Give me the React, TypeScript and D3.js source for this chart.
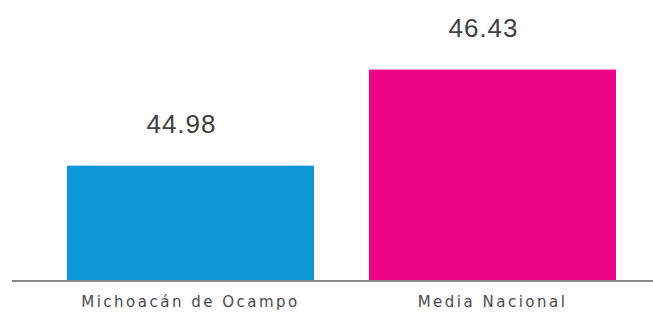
import React, { useRef, useEffect } from "react";
import * as d3 from "d3";

const categories = ["Michoacán de Ocampo", "Media Nacional"];
const values = [44.98, 46.43];
const colors = ["#0f96d6", "#ec0586"];

export default function App() {
  const svgRef = useRef<SVGSVGElement>(null);

  useEffect(() => {
    if (!svgRef.current) return;
    const svg = d3.select(svgRef.current);
    svg.selectAll("*").remove();

    const width = 653;
    const height = 312;
    const baseline = 281;

    const x = d3
      .scaleBand<string>()
      .domain(categories)
      .range([12, 671])
      .paddingInner(0.182)
      .paddingOuter(0.182);

    // truncated value axis, as in the original
    const y = d3.scaleLinear().domain([43.24, 47.48]).range([baseline, 0]);

    svg.attr("width", width).attr("height", height);

    svg
      .selectAll("rect.bar")
      .data(values)
      .enter()
      .append("rect")
      .attr("class", "bar")
      .attr("x", (d, i) => x(categories[i]) as number)
      .attr("y", (d) => y(d))
      .attr("width", x.bandwidth())
      .attr("height", (d) => baseline - y(d))
      .attr("fill", (d, i) => colors[i]);

    svg
      .append("line")
      .attr("x1", 12)
      .attr("x2", width)
      .attr("y1", baseline)
      .attr("y2", baseline)
      .attr("stroke", "#8a8a8a")
      .attr("stroke-width", 2);

    svg
      .selectAll("text.value")
      .data(values)
      .enter()
      .append("text")
      .attr("class", "value")
      .attr("x", (d, i) => (x(categories[i]) as number) + x.bandwidth() / 2 - 9)
      .attr("y", (d) => y(d) - 33)
      .attr("text-anchor", "middle")
      .attr("font-family", "Liberation Sans, Arial, sans-serif")
      .attr("font-size", 26)
      .attr("letter-spacing", 1)
      .attr("fill", "#404040")
      .text((d) => d.toFixed(2));

    svg
      .selectAll("text.cat")
      .data(categories)
      .enter()
      .append("text")
      .attr("class", "cat")
      .attr("x", (d) => (x(d) as number) + x.bandwidth() / 2)
      .attr("y", 307)
      .attr("text-anchor", "middle")
      .attr("font-family", "DejaVu Sans, sans-serif")
      .attr("font-size", 15)
      .attr("letter-spacing", 2.5)
      .attr("fill", "#4a4a4a")
      .text((d) => d);
  }, []);

  return (
    <div style={{ position: "absolute", left: 0, top: 0 }}>
      <svg ref={svgRef} style={{ display: "block" }}></svg>
    </div>
  );
}
